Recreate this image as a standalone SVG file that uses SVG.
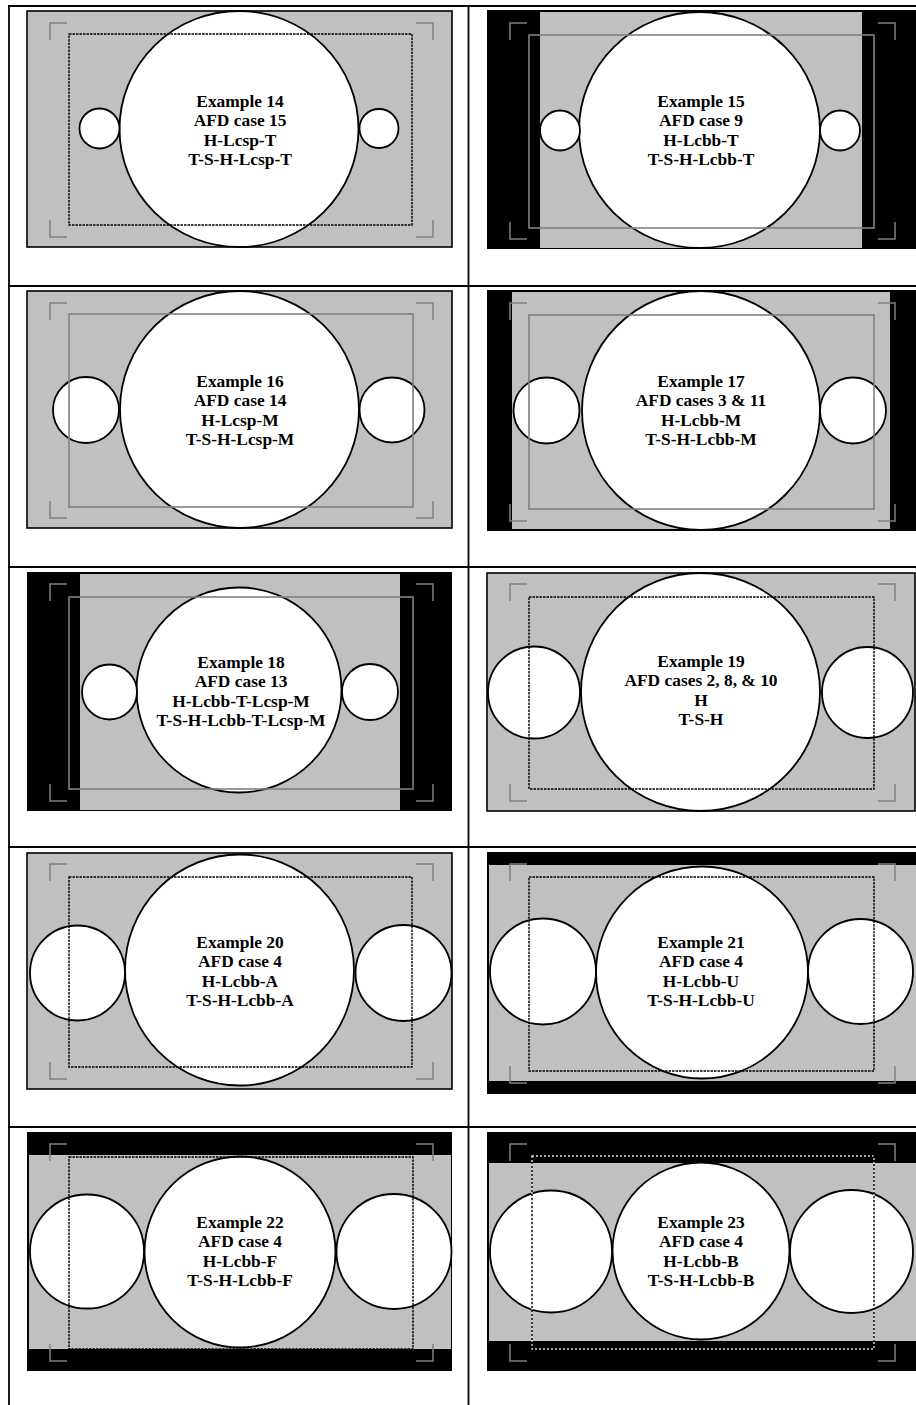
<svg xmlns="http://www.w3.org/2000/svg" width="916" height="1405" viewBox="0 0 916 1405">
<style>
.grid{stroke:#000;stroke-width:1.8;fill:none}
.pan{fill:#c0c0c0;stroke:#000;stroke-width:1.6}
.blk{fill:#000}
.gry{fill:#c0c0c0}
.cir{fill:#fff;stroke:#000;stroke-width:1.8}
.mk{fill:none;stroke:#808080;stroke-width:1.5}
.safe{fill:none;stroke:#808080;stroke-width:1.6}
.dash{fill:none;stroke:#000;stroke-width:1.4;stroke-dasharray:2.5 1}
.dashw{fill:none;stroke:#d8d8d8;stroke-width:1.4;stroke-dasharray:2 2}
.dashk{fill:none;stroke:#000;stroke-width:1.4;stroke-dasharray:2 2;stroke-dashoffset:2}
text{font-family:"Liberation Serif","Times New Roman",serif;font-weight:bold;font-size:17.4px;text-anchor:middle;fill:#000}
</style>
<rect width="916" height="1405" fill="#fff"/>
<g id="table" class="grid">
<line x1="9" y1="5" x2="9" y2="1405"/>
<line x1="468.5" y1="5" x2="468.5" y2="1405"/>
<line x1="8" y1="6" x2="916" y2="6"/>
<line x1="8" y1="286" x2="916" y2="286"/>
<line x1="8" y1="567" x2="916" y2="567"/>
<line x1="8" y1="847" x2="916" y2="847"/>
<line x1="8" y1="1127" x2="916" y2="1127"/>
</g>

<g id="ex14">
<rect class="pan" x="27" y="11" width="425" height="236"/>
<ellipse class="cir" cx="239" cy="129" rx="119.5" ry="118"/>
<circle class="cir" cx="99.5" cy="128.5" r="20"/>
<circle class="cir" cx="379" cy="128.5" r="19.5"/>
<path class="mk" d="M50 40V23H67M416 23H433V40M50 220V237H67M416 237H433V220"/>
<rect class="dash" x="69" y="34" width="343" height="191"/>
<text x="240" y="107">Example 14<tspan x="240" dy="19.3">AFD case 15</tspan><tspan x="240" dy="19.3">H-Lcsp-T</tspan><tspan x="240" dy="19.3">T-S-H-Lcsp-T</tspan></text>
</g>

<g id="ex15">
<rect class="blk" x="487" y="10" width="429" height="239"/>
<rect class="gry" x="540" y="12" width="322" height="236"/>
<ellipse class="cir" cx="699.5" cy="130" rx="120.5" ry="118"/>
<circle class="cir" cx="560" cy="130.5" r="20"/>
<circle class="cir" cx="840" cy="130.5" r="20"/>
<path class="mk" d="M510 40V23H527M878 23H895V40M510 222V239H527M878 239H895V222"/>
<rect class="safe" x="529" y="35" width="345" height="193"/>
<text x="701" y="107">Example 15<tspan x="701" dy="19.3">AFD case 9</tspan><tspan x="701" dy="19.3">H-Lcbb-T</tspan><tspan x="701" dy="19.3">T-S-H-Lcbb-T</tspan></text>
</g>

<g id="ex16">
<rect class="pan" x="27" y="291" width="425" height="237"/>
<ellipse class="cir" cx="239.5" cy="409.5" rx="119.5" ry="118.5"/>
<circle class="cir" cx="86" cy="410" r="33"/>
<circle class="cir" cx="392" cy="410" r="32.5"/>
<path class="mk" d="M50 320V303H67M416 303H433V320M50 501V518H67M416 518H433V501"/>
<rect class="safe" x="69" y="314" width="344" height="193"/>
<text x="240" y="387">Example 16<tspan x="240" dy="19.3">AFD case 14</tspan><tspan x="240" dy="19.3">H-Lcsp-M</tspan><tspan x="240" dy="19.3">T-S-H-Lcsp-M</tspan></text>
</g>

<g id="ex17">
<rect class="blk" x="487" y="290" width="429" height="241"/>
<rect class="gry" x="512" y="292" width="378" height="237"/>
<ellipse class="cir" cx="701" cy="410.5" rx="119" ry="119.5"/>
<circle class="cir" cx="546.5" cy="410.5" r="33"/>
<circle class="cir" cx="853" cy="410.5" r="33"/>
<path class="mk" d="M510 320V303H527M878 303H895V320M510 504V521H527M878 521H895V504"/>
<rect class="safe" x="529" y="315" width="345" height="194"/>
<text x="701" y="387">Example 17<tspan x="701" dy="19.3">AFD cases 3 &amp; 11</tspan><tspan x="701" dy="19.3">H-Lcbb-M</tspan><tspan x="701" dy="19.3">T-S-H-Lcbb-M</tspan></text>
</g>

<g id="ex18">
<rect class="blk" x="27" y="572" width="425" height="239"/>
<rect class="gry" x="80" y="574" width="320" height="236"/>
<circle class="cir" cx="239" cy="690" r="102.5"/>
<circle class="cir" cx="109.5" cy="692" r="27.5"/>
<circle class="cir" cx="370" cy="692" r="28"/>
<path class="mk" d="M50 601V584H67M416 584H433V601M50 784V801H67M416 801H433V784"/>
<rect class="safe" x="69" y="597" width="344" height="192"/>
<text x="241" y="668">Example 18<tspan x="241" dy="19.3">AFD case 13</tspan><tspan x="241" dy="19.3">H-Lcbb-T-Lcsp-M</tspan><tspan x="241" dy="19.3">T-S-H-Lcbb-T-Lcsp-M</tspan></text>
</g>

<g id="ex19">
<rect class="pan" x="487" y="573" width="428" height="238"/>
<ellipse class="cir" cx="700.5" cy="692" rx="119.5" ry="119"/>
<circle class="cir" cx="534" cy="692.5" r="46"/>
<circle class="cir" cx="867.5" cy="692.5" r="45.5"/>
<path class="mk" d="M510 601V584H527M878 584H895V601M510 784V801H527M878 801H895V784"/>
<rect class="dash" x="529" y="597" width="345" height="192"/>
<text x="701" y="667">Example 19<tspan x="701" dy="19.3">AFD cases 2, 8, &amp; 10</tspan><tspan x="701" dy="19.3">H</tspan><tspan x="701" dy="19.3">T-S-H</tspan></text>
</g>

<g id="ex20">
<rect class="pan" x="27" y="853" width="425" height="236"/>
<ellipse class="cir" cx="239.5" cy="970" rx="114.5" ry="115.5"/>
<circle class="cir" cx="77.5" cy="973" r="47.5"/>
<circle class="cir" cx="403.5" cy="973" r="48"/>
<path class="mk" d="M50 881V864H67M416 864H433V881M50 1062V1079H67M416 1079H433V1062"/>
<rect class="dash" x="69" y="877" width="343" height="190"/>
<text x="240" y="948">Example 20<tspan x="240" dy="19.3">AFD case 4</tspan><tspan x="240" dy="19.3">H-Lcbb-A</tspan><tspan x="240" dy="19.3">T-S-H-Lcbb-A</tspan></text>
</g>

<g id="ex21">
<rect class="blk" x="487" y="852" width="429" height="242"/>
<rect class="gry" x="489" y="865" width="427" height="216"/>
<circle class="cir" cx="702" cy="972.5" r="106"/>
<circle class="cir" cx="543" cy="971.5" r="53"/>
<circle class="cir" cx="860.5" cy="971.5" r="52.5"/>
<path class="mk" d="M510 881V864H527M878 864H895V881M510 1066V1083H527M878 1083H895V1066"/>
<rect class="dash" x="529" y="877" width="345" height="194"/>
<text x="701" y="948">Example 21<tspan x="701" dy="19.3">AFD case 4</tspan><tspan x="701" dy="19.3">H-Lcbb-U</tspan><tspan x="701" dy="19.3">T-S-H-Lcbb-U</tspan></text>
</g>

<g id="ex22">
<rect class="blk" x="27" y="1132" width="425" height="239"/>
<rect class="gry" x="29" y="1155" width="422" height="194"/>
<circle class="cir" cx="240" cy="1252" r="95.5"/>
<circle class="cir" cx="87" cy="1251.5" r="57"/>
<circle class="cir" cx="394" cy="1251.5" r="57.5"/>
<path class="mk" d="M50 1161V1144H67M416 1144H433V1161M50 1344V1361H67M416 1361H433V1344"/>
<rect class="dash" x="69" y="1157" width="344" height="192"/>
<text x="240" y="1228">Example 22<tspan x="240" dy="19.3">AFD case 4</tspan><tspan x="240" dy="19.3">H-Lcbb-F</tspan><tspan x="240" dy="19.3">T-S-H-Lcbb-F</tspan></text>
</g>

<g id="ex23">
<rect class="blk" x="487" y="1132" width="429" height="239"/>
<rect class="gry" x="489" y="1163" width="427" height="178"/>
<circle class="cir" cx="701" cy="1251" r="88.5"/>
<circle class="cir" cx="551" cy="1251.5" r="61"/>
<circle class="cir" cx="851.5" cy="1251.5" r="61.5"/>
<path class="mk" d="M510 1161V1144H527M878 1144H895V1161M510 1344V1361H527M878 1361H895V1344"/>
<rect class="dashw" x="532" y="1156" width="342" height="193"/>
<rect class="dashk" x="532" y="1156" width="342" height="193"/>
<text x="701" y="1228">Example 23<tspan x="701" dy="19.3">AFD case 4</tspan><tspan x="701" dy="19.3">H-Lcbb-B</tspan><tspan x="701" dy="19.3">T-S-H-Lcbb-B</tspan></text>
</g>
</svg>
